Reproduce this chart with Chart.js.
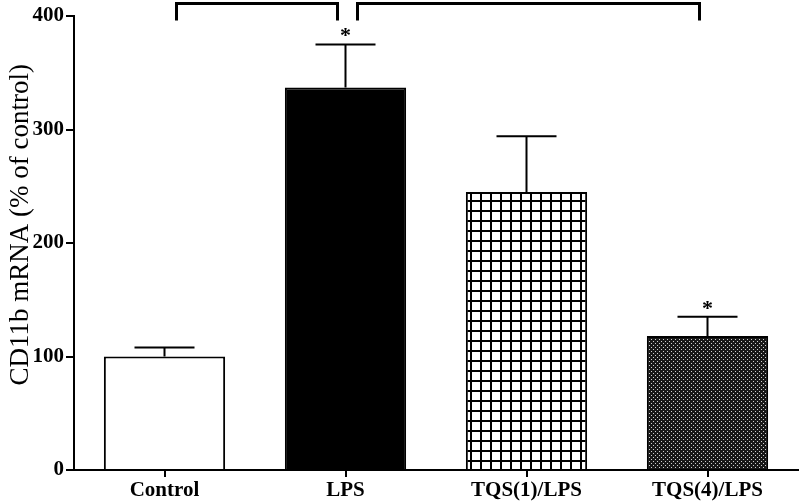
<!DOCTYPE html>
<html>
<head>
<meta charset="utf-8">
<script src="https://cdn.jsdelivr.net/npm/chart.js@4.4.0/dist/chart.umd.min.js"></script>
<style>
  html, body { margin: 0; padding: 0; background: #fff; }
  #wrap { width: 800px; height: 503px; }
</style>
</head>
<body>
<div id="wrap"><canvas id="chart" width="800" height="503"></canvas></div>
<script>
// Values
const categories = ['Control', 'LPS', 'TQS(1)/LPS', 'TQS(4)/LPS'];
const meanValues = [100, 337, 245, 118];
const errorTops = [108, 375, 294, 135];
const significant = [false, true, false, true];
const brackets = [[0, 1], [1, 3]];
const yTicks = [0, 100, 200, 300, 400];
const yTitle = 'CD11b mRNA (% of control)';

// Fill patterns for the bars
function gridPattern() {
    const c = document.createElement('canvas');
    c.width = 10; c.height = 10;
    const g = c.getContext('2d');
    g.fillStyle = '#fff';
    g.fillRect(0, 0, 10, 10);
    g.fillStyle = '#000';
    g.fillRect(0, 0, 10, 2);
    g.fillRect(0, 0, 2, 10);
    return g.createPattern(c, 'repeat');
}

function densePattern() {
    const c = document.createElement('canvas');
    c.width = 4; c.height = 4;
    const g = c.getContext('2d');
    g.fillStyle = '#181818';
    g.fillRect(0, 0, 4, 4);
    g.fillStyle = '#cfcfcf';
    g.fillRect(1, 1, 1, 1);
    g.fillRect(3, 3, 1, 1);
    return g.createPattern(c, 'repeat');
}

const fills = ['#ffffff', '#000000', gridPattern(), densePattern()];

// Error bars, asterisks, comparison brackets and the y title
const annotations = {
    id: 'annotations',
    afterDatasetsDraw(chart) {
        const ctx = chart.ctx;
        const x = chart.scales.x;
        const y = chart.scales.y;
        ctx.save();
        ctx.strokeStyle = '#000';
        ctx.fillStyle = '#000';
        ctx.lineWidth = 2;
        ctx.lineCap = 'butt';

        meanValues.forEach((v, i) => {
            const cx = x.getPixelForValue(i);
            const top = y.getPixelForValue(errorTops[i]);
            ctx.beginPath();
            ctx.moveTo(cx, y.getPixelForValue(v));
            ctx.lineTo(cx, top);
            ctx.moveTo(cx - 30, top);
            ctx.lineTo(cx + 30, top);
            ctx.stroke();
            if (significant[i]) {
                ctx.font = 'bold 22px "Liberation Serif"';
                ctx.textAlign = 'center';
                ctx.textBaseline = 'alphabetic';
                ctx.fillText('*', cx, top - 2);
            }
        });

        ctx.lineWidth = 3;
        brackets.forEach(([a, b]) => {
            const x1 = x.getPixelForValue(a) + 12;
            const x2 = x.getPixelForValue(b) - 8;
            const yTop = y.getPixelForValue(411);
            const yLeg = y.getPixelForValue(396);
            ctx.beginPath();
            ctx.moveTo(x1, yLeg);
            ctx.lineTo(x1, yTop);
            ctx.lineTo(x2, yTop);
            ctx.lineTo(x2, yLeg);
            ctx.stroke();
        });

        // rotated axis title, sitting a little above the axis middle like the original
        ctx.translate(21, y.getPixelForValue(216));
        ctx.rotate(-Math.PI / 2);
        ctx.font = '27px "Liberation Serif"';
        ctx.textAlign = 'center';
        ctx.textBaseline = 'middle';
        ctx.fillText(yTitle, 0, 0);
        ctx.restore();
    }
};

new Chart(document.getElementById('chart'), {
    type: 'bar',
    data: {
        labels: categories,
        datasets: [{
            data: meanValues,
            backgroundColor: fills,
            borderColor: '#000',
            borderWidth: 2,
            barPercentage: 0.67,
            categoryPercentage: 1.0
        }]
    },
    options: {
        responsive: false,
        animation: false,
        layout: { padding: { top: 16, right: 2, left: 0, bottom: 0 } },
        plugins: {
            legend: { display: false },
            tooltip: { enabled: false }
        },
        scales: {
            x: {
                offset: true,
                afterFit(scale) { scale.height = 33; },
                grid: {
                    offset: false,
                    drawOnChartArea: false,
                    drawTicks: true,
                    tickLength: 7,
                    color: '#000',
                    lineWidth: 2
                },
                border: { display: true, color: '#000', width: 2 },
                ticks: {
                    color: '#000',
                    padding: 1,
                    font: { family: 'Liberation Serif', size: 21, weight: 'bold' }
                }
            },
            y: {
                min: 0,
                max: 400,
                afterFit(scale) { scale.width = 74; },
                afterBuildTicks(scale) {
                    scale.ticks = yTicks.map(v => ({ value: v }));
                },
                grid: {
                    drawOnChartArea: false,
                    drawTicks: true,
                    tickLength: 8,
                    color: '#000',
                    lineWidth: 2
                },
                border: { display: true, color: '#000', width: 2 },
                ticks: {
                    color: '#000',
                    padding: 2,
                    font: { family: 'Liberation Serif', size: 21, weight: 'bold' }
                }
            }
        }
    },
    plugins: [annotations]
});
</script>
</body>
</html>
